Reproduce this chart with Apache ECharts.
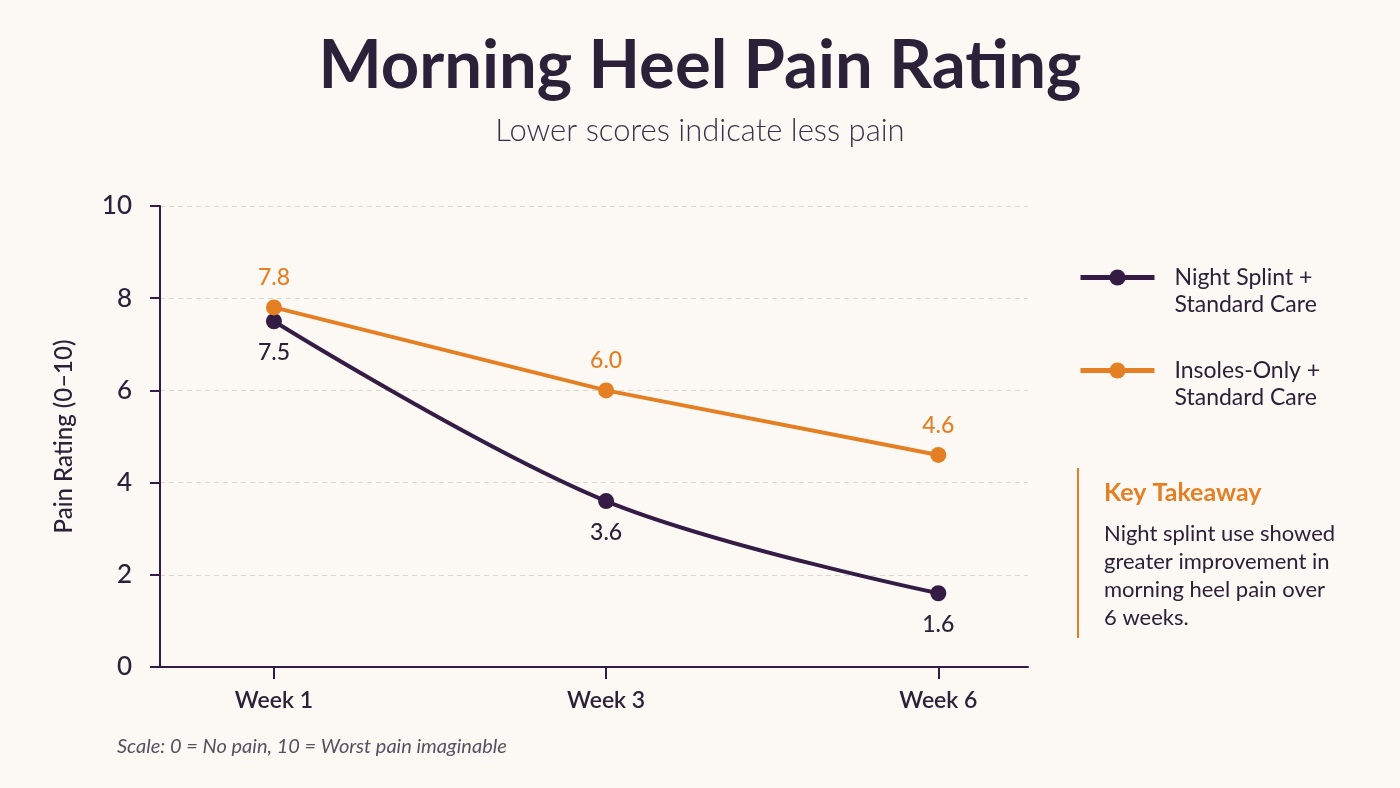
<!DOCTYPE html>
<html>
<head>
<meta charset="utf-8">
<script src="https://cdn.jsdelivr.net/npm/echarts@6/dist/echarts.min.js"></script>
<style>
  html, body { margin: 0; padding: 0; background: #fcf9f4; }
  #chart { width: 1400px; height: 788px; }
</style>
</head>
<body>
<div id="chart"></div>
<script>
// data
var weeks = ['Week 1', 'Week 3', 'Week 6'];
var nightSplint = [7.5, 3.6, 1.6];
var insolesOnly = [7.8, 6.0, 4.6];

var purple = '#341c45';
var orange = '#e57f24';
var ink = '#2b2138';
var font = 'Lato, "Noto Sans", sans-serif';

var chart = echarts.init(document.getElementById('chart'));

function toPoints(arr) {
  return arr.map(function (v, i) { return [i, v]; });
}

var option = {
  backgroundColor: '#fcf9f4',
  textStyle: { fontFamily: font },
  title: [
    {
      text: 'Morning Heel Pain Rating',
      left: 'center',
      top: 28,
      textStyle: { fontSize: 67, fontWeight: 'bold', color: ink, fontFamily: font }
    },
    {
      text: 'Lower scores indicate less pain',
      left: 'center',
      top: 110,
      textStyle: { fontSize: 31, fontWeight: 300, color: '#3a3048', fontFamily: font }
    }
  ],
  grid: { left: 160, right: 372, top: 206, bottom: 121 },
  legend: {
    orient: 'vertical',
    left: 1078,
    top: 237,
    padding: 0,
    itemWidth: 74,
    itemHeight: 20,
    itemGap: 12,
    lineStyle: { width: 5 },
    data: ['Night Splint +\nStandard Care', 'Insoles-Only +\nStandard Care'],
    // blank first line keeps the icon level with the first text line
    formatter: function (name) { return ' \n' + name; },
    textStyle: { fontSize: 23, lineHeight: 27, color: ink, padding: [0, 0, 0, 15], fontFamily: font }
  },
  xAxis: {
    type: 'value',
    min: -0.343,
    max: 2.27,
    splitLine: { show: false },
    axisLine: { show: true, lineStyle: { color: purple, width: 2 } },
    axisTick: { show: true, customValues: [0, 1, 2], length: 12, lineStyle: { color: purple, width: 2 } },
    axisLabel: {
      customValues: [0, 1, 2],
      formatter: function (v) { return weeks[Math.round(v)]; },
      margin: 22,
      fontSize: 23,
      fontWeight: 600,
      color: ink
    }
  },
  yAxis: {
    type: 'value',
    min: 0,
    max: 10,
    interval: 2,
    name: 'Pain Rating (0\u201310)',
    nameLocation: 'middle',
    nameGap: 84,
    nameRotate: 90,
    nameTextStyle: { fontSize: 24, color: ink, fontWeight: 500 },
    axisLine: { show: true, onZero: false, lineStyle: { color: purple, width: 2 } },
    axisTick: { show: true, length: 10, lineStyle: { color: purple, width: 2 } },
    axisLabel: { fontSize: 26, fontWeight: 500, color: ink, margin: 28 },
    splitLine: { show: true, lineStyle: { color: '#dcd6d0', type: [5, 4], width: 1 } }
  },
  series: [
    {
      name: 'Night Splint +\nStandard Care',
      type: 'line',
      smooth: 0.35,
      data: toPoints(nightSplint),
      symbol: 'circle',
      symbolSize: 16,
      lineStyle: { color: purple, width: 4 },
      itemStyle: { color: purple },
      label: {
        show: true,
        position: 'bottom',
        distance: 12,
        formatter: function (p) { return p.value[1].toFixed(1); },
        fontSize: 23,
        fontWeight: 500,
        color: ink
      },
      z: 3
    },
    {
      name: 'Insoles-Only +\nStandard Care',
      type: 'line',
      smooth: false,
      data: toPoints(insolesOnly),
      symbol: 'circle',
      symbolSize: 16,
      lineStyle: { color: orange, width: 4 },
      itemStyle: { color: orange },
      label: {
        show: true,
        position: 'top',
        distance: 10,
        formatter: function (p) { return p.value[1].toFixed(1); },
        fontSize: 23,
        fontWeight: 500,
        color: orange
      },
      z: 4
    }
  ],
  graphic: [
    {
      type: 'rect',
      left: 1077,
      top: 468,
      shape: { width: 2, height: 170 },
      style: { fill: orange }
    },
    {
      type: 'text',
      left: 1104,
      top: 480,
      style: { text: 'Key Takeaway', fontSize: 25, fontWeight: 'bold', fill: orange, fontFamily: font }
    },
    {
      type: 'text',
      left: 1104,
      top: 520,
      style: {
        text: 'Night splint use showed\ngreater improvement in\nmorning heel pain over\n6 weeks.',
        fontSize: 22,
        lineHeight: 28,
        fill: ink,
        fontFamily: font
      }
    },
    {
      type: 'text',
      left: 117,
      top: 737,
      style: {
        text: 'Scale: 0 = No pain, 10 = Worst pain imaginable',
        fontSize: 20,
        fontStyle: 'italic',
        fill: '#57505f',
        fontFamily: font
      }
    }
  ]
};

chart.setOption(option);
</script>
</body>
</html>
